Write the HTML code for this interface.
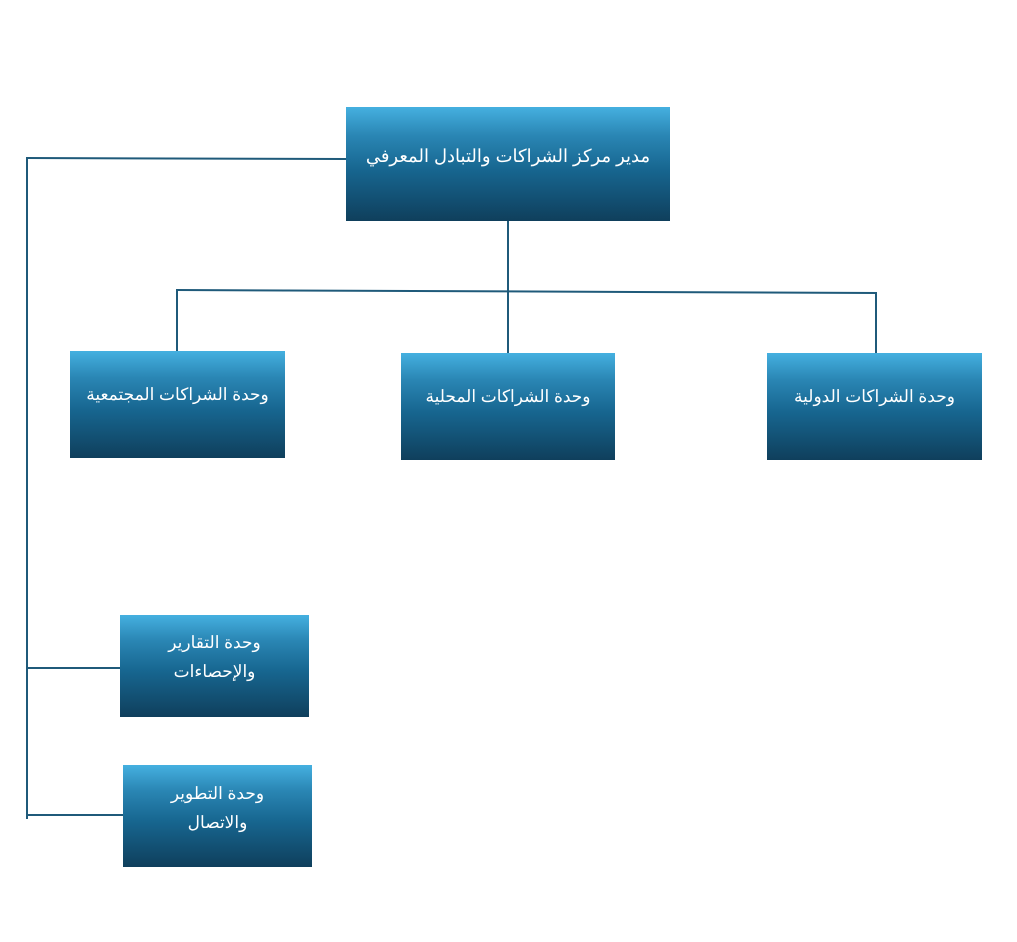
<!DOCTYPE html>
<html><head><meta charset="utf-8"><style>
body{margin:0;width:1017px;height:942px;background:#fff;position:relative;overflow:hidden;font-family:"Liberation Sans","Noto Sans CJK SC",sans-serif;}
.b{position:absolute;background:linear-gradient(to bottom,#45b0e0 0%,#2a86b4 25%,#176690 55%,#0f3f5c 100%);color:#fff;font-size:17px;text-align:center;direction:rtl;line-height:29px;box-sizing:border-box;}
svg{position:absolute;left:0;top:0}
</style></head><body>
<svg width="1017" height="942">
<g stroke="#1f5a7a" stroke-width="2" fill="none">
<line x1="27" y1="158" x2="27" y2="819"/>
<line x1="26" y1="158" x2="346" y2="159"/>
<line x1="27" y1="668" x2="120" y2="668"/>
<line x1="27" y1="815" x2="123" y2="815"/>
<line x1="508" y1="221" x2="508" y2="353"/>
<line x1="176" y1="290" x2="877" y2="293"/>
<line x1="177" y1="289" x2="177" y2="351"/>
<line x1="876" y1="292" x2="876" y2="353"/>
</g></svg>
<div class="b" style="left:346px;top:107px;width:324px;height:114px;padding-top:35px;font-size:18px">مدير مركز الشراكات والتبادل المعرفي</div>
<div class="b" style="left:70px;top:351px;width:215px;height:107px;padding-top:29px">وحدة الشراكات المجتمعية</div>
<div class="b" style="left:401px;top:353px;width:214px;height:107px;padding-top:29px">وحدة الشراكات المحلية</div>
<div class="b" style="left:767px;top:353px;width:215px;height:107px;padding-top:29px">وحدة الشراكات الدولية</div>
<div class="b" style="left:120px;top:615px;width:189px;height:102px;padding-top:13px">وحدة التقارير<br>والإحصاءات</div>
<div class="b" style="left:123px;top:765px;width:189px;height:102px;padding-top:14px">وحدة التطوير<br>والاتصال</div>
</body></html>
